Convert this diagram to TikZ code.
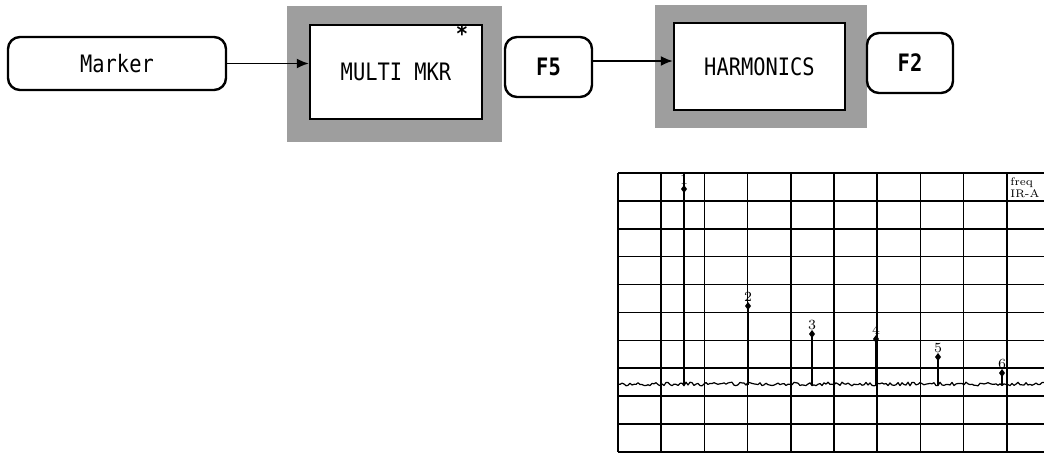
\documentclass[tikz,border=0pt]{standalone}
\usepackage{fontspec}
\newfontfamily\keyfont[FakeStretch=0.85]{DejaVu Sans Mono}
\usetikzlibrary{arrows.meta,positioning,calc}

\begin{document}
\begin{tikzpicture}[
  x=0.5pt, y=-0.5pt,
  font=\keyfont\fontsize{12}{14}\selectfont,
  softkey/.style={draw, line width=1.2pt, rounded corners=6pt, align=center, inner sep=2pt},
  menubox/.style={draw, line width=1.2pt, fill=white, align=center, inner sep=2pt},
  shade/.style={fill=black!38, inner sep=0pt},
  arr/.style={-{Latex[length=6pt, width=5pt]}, line width=0.9pt},
  gridline/.style={line width=0.8pt},
  trace/.style={line width=0.6pt, line join=round}
]
\useasboundingbox (0,0) rectangle (1044,453);

% softkey chain
\node[softkey, minimum width=109pt, minimum height=26.5pt] (marker) at (117,63.5) {Marker};
\node[shade, minimum width=107.5pt, minimum height=68pt] (multishade) at (394.5,74) {};
\node[menubox, minimum width=86pt, minimum height=47pt] (multi) at (396,72) {MULTI MKR};
\node[inner sep=0pt, font=\keyfont\bfseries\fontsize{12}{12}\selectfont] (star) at (462,34) {*};
\node[softkey, minimum width=43.5pt, minimum height=30pt, font=\keyfont\bfseries\fontsize{12}{14}\selectfont] (f5) at (548.5,67) {F5};
\node[shade, minimum width=106pt, minimum height=61.5pt] (harmshade) at (761,66.5) {};
\node[menubox, minimum width=85.5pt, minimum height=43.5pt] (harm) at (759.5,66.5) {HARMONICS};
\node[softkey, minimum width=43pt, minimum height=30pt, font=\keyfont\bfseries\fontsize{12}{14}\selectfont] (f2) at (910,63) {F2};

\draw[arr] (marker.east) -- (marker.east -| multi.west);
\draw[arr] ([yshift=3pt]f5.east) -- ([yshift=3pt]f5.east -| harm.west);

% analyzer screen
\foreach \i in {0,...,9}
  \draw[gridline] ({618+43.2*\i},173) -- ({618+43.2*\i},452);
\foreach \j in {0,...,10}
  \draw[gridline] (618,{173+27.9*\j}) -- (1044,{173+27.9*\j});
\node[anchor=north west, inner sep=0pt, align=left, font=\fontsize{5.5}{6}\selectfont] (readout) at (1010,177) {freq\\IR-A};

\pgfmathsetseed{7}
\draw[trace] (618,384) \foreach \x in {620,622,...,1044} { -- (\x,{384+1.8*rand}) };
\foreach \px/\ptop/\plab/\pmark [count=\n] in {684/173/180/189, 748/304/297/306, 812/332/325/334, 876/337/330/339, 938/355/348/357, 1002/371/364/373} {
  \draw[trace, line width=0.9pt] (\px,385) -- (\px,\ptop);
  \fill (\px,\pmark) +(0,-4) -- +(3,0) -- +(0,4) -- +(-3,0) -- cycle;
  \node[inner sep=0pt, font=\fontsize{7}{7}\selectfont] (peak\n) at (\px,\plab) {\n};
}
\end{tikzpicture}
\end{document}
